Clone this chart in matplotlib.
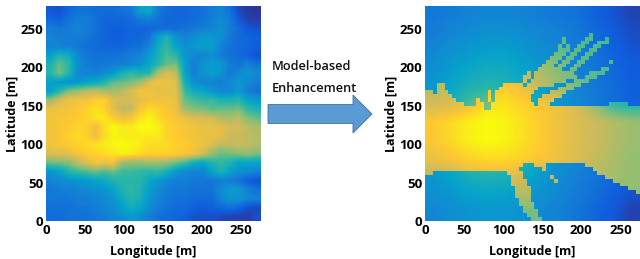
import numpy as np
import matplotlib
matplotlib.use("Agg")
import matplotlib.pyplot as plt
from matplotlib.colors import LinearSegmentedColormap
from matplotlib.patches import FancyArrow, PathPatch
from matplotlib.path import Path

plt.rcParams['font.family'] = ['Open Sans', 'DejaVu Sans']

parula = LinearSegmentedColormap.from_list("parula", [
    "#352a87", "#0f5cdd", "#1481d6", "#06a4ca", "#2eb7a4",
    "#87bf77", "#d1bb59", "#fec832", "#f9fb0e"])

ticks = [0, 50, 100, 150, 200, 250]
x_label = "Longitude [m]"
y_label = "Latitude [m]"
arrow_text = ["Model-based", "Enhancement"]

# left map, signal level in percent of the colour range, top row first
measured = [
    [12,10,16,20,20,18,18,18,20,22,36,40,24,18,16,16,18,20,24,26,20,8,4,3],
    [16,14,20,24,24,20,16,16,16,18,22,24,20,16,16,16,18,20,24,28,24,12,6,5],
    [24,22,24,26,24,20,16,14,14,16,16,16,18,18,18,20,22,24,26,30,24,18,12,10],
    [26,24,24,24,22,18,16,14,14,16,16,20,36,46,32,26,30,34,34,30,22,18,16,14],
    [26,26,24,22,20,18,16,16,16,18,20,26,42,50,38,30,34,36,36,26,20,18,16,14],
    [36,46,42,28,22,20,20,20,22,24,26,34,44,54,48,32,28,26,30,24,20,18,14,10],
    [46,58,50,30,24,22,22,24,24,26,30,38,48,58,60,36,24,32,36,34,24,20,26,20],
    [48,60,48,28,26,26,28,34,44,50,46,48,68,78,72,38,24,32,36,32,22,28,32,28],
    [36,34,30,32,36,40,46,56,58,60,66,78,84,82,80,44,30,26,26,24,28,34,28,24],
    [36,48,62,66,70,72,68,68,70,78,84,84,80,80,80,52,42,40,32,28,28,34,24,20],
    [66,76,82,84,84,88,90,78,76,76,80,84,84,84,82,58,54,50,52,46,46,48,38,34],
    [82,84,84,86,90,94,90,80,72,72,86,92,90,86,82,66,62,62,56,58,58,60,50,46],
    [84,86,86,88,90,94,96,88,82,86,94,98,92,88,86,82,78,76,76,70,68,72,62,58],
    [84,86,88,90,90,82,92,100,96,96,100,100,98,90,88,86,84,82,82,80,76,76,72,68],
    [84,86,90,92,90,82,92,98,97,96,96,96,96,90,88,86,84,82,82,80,74,74,72,70],
    [84,86,88,90,92,94,96,98,100,98,96,92,92,92,90,88,86,82,78,72,72,74,72,70],
    [78,78,80,84,88,90,92,94,98,96,92,90,90,90,88,86,82,76,64,58,60,62,64,60],
    [58,60,62,70,78,84,82,84,66,64,64,66,66,64,58,52,42,38,46,50,46,38,38,38],
    [32,36,46,52,54,58,54,58,52,52,50,48,50,44,34,28,26,26,36,46,38,30,28,26],
    [26,28,30,32,34,38,40,46,48,48,48,40,34,28,24,24,22,22,22,24,24,20,14,10],
    [22,24,24,26,28,30,32,38,46,50,46,36,28,24,22,22,20,20,20,28,34,34,26,20],
    [22,22,22,24,24,26,28,32,40,48,44,34,26,22,20,20,18,18,18,26,32,32,26,26],
    [20,20,20,22,22,24,26,30,36,42,38,30,24,20,18,18,14,12,14,16,20,16,10,8],
    [18,18,20,20,20,22,24,26,30,34,30,24,20,18,16,14,10,10,10,8,6,6,5,10],
]

# right map, background level (outside the lit beams)
shadowed = [
    [22,24,26,27,27,26,24,22,20,15,11,7],
    [24,27,29,31,31,29,27,25,22,18,13,9],
    [27,31,34,36,36,33,30,27,24,20,15,11],
    [30,35,39,42,41,37,33,29,25,21,17,13],
    [33,39,45,48,46,42,36,31,26,22,18,14],
    [36,44,56,60,60,50,38,32,27,23,19,15],
    [38,46,58,64,60,50,40,32,27,23,19,15],
    [38,46,58,64,60,50,40,32,27,23,19,15],
    [36,44,54,58,56,47,37,31,27,23,19,14],
    [33,38,44,46,45,40,34,29,25,21,16,12],
    [30,33,36,38,37,34,31,27,23,19,14,10],
    [27,30,32,33,33,31,28,25,21,16,12,6],
]

# right map, level inside the lit beams
lit = [
    [50,50,50,50,50,50,50,50,52,52,50,48],
    [52,52,52,52,52,52,52,54,54,54,52,50],
    [60,60,60,60,60,60,60,58,56,55,52,50],
    [65,65,68,70,72,70,68,62,58,55,54,52],
    [70,72,78,85,88,82,72,65,60,56,54,52],
    [76,78,84,94,94,90,86,82,76,64,50,47],
    [88,92,97,100,98,93,88,83,78,74,70,66],
    [87,92,97,100,98,93,88,83,78,74,70,66],
    [82,86,90,92,92,90,86,82,77,73,69,65],
    [70,72,78,80,80,76,72,75,72,70,68,65],
    [66,66,66,68,70,70,66,66,66,65,65,64],
    [60,60,60,60,60,60,60,60,60,60,60,60],
]

# lit cells of a 5 m grid, one list of (first, end) columns per row, top row first
lit_spans = [[]] * 7 + [
    [(42,43)],
    [(35,36),(41,43),(46,47)],
    [(35,36),(40,42),(44,47)],
    [(34,35),(36,37),(39,41),(43,45)],
    [(34,37),(38,40),(42,44)],
    [(33,36),(37,39),(41,43)],
    [(32,35),(36,38),(40,42)],
    [(31,34),(35,37),(39,41),(47,48)],
    [(30,33),(34,36),(38,40)],
    [(29,35),(37,39),(45,47)],
    [(26,27),(28,38),(42,46)],
    [(25,27),(28,39),(41,44)],
    [(25,26),(27,36),(38,42)],
    [(3,5),(20,25),(26,33),(36,40)],
    [(3,5),(19,29),(34,38)],
    [(0,2),(3,6),(16,17),(18,28),(32,36)],
    [(0,7),(16,17),(18,27),(30,35)],
    [(0,8),(13,14),(16,17),(18,27),(29,33)],
    [(0,10),(13,15),(17,28),(29,32),(47,52)],
    [(0,15),(17,55)],
] + [[(0,55)]] * 14 + [
    [(0,25),(28,31),(41,55)],
    [(0,24),(30,31),(43,55)],
    [(0,2),(21,25),(44,55)],
    [(22,25),(32,33),(46,55)],
    [(22,26),(33,34),(48,55)],
    [(22,26),(50,55)],
    [(23,27),(52,55)],
    [(23,27),(54,55)],
    [(23,27)],
    [(24,27)],
    [(24,28)],
    [(25,28)],
    [(25,29)],
    [(26,29)],
    [(27,30)],
]

fig = plt.figure(figsize=(6.4, 2.59), dpi=100)
W, H = 640, 259


def make_axes(left, right, top=6, bottom=221):
    ax = fig.add_axes([left / W, 1 - bottom / H, (right - left) / W, (bottom - top) / H])
    ax.set_xlim(0, 275)
    ax.set_ylim(0, 280)
    ax.set_xticks(ticks)
    ax.set_yticks(ticks)
    ax.tick_params(length=0, pad=2, labelsize=9.5)
    for lab in ax.get_xticklabels() + ax.get_yticklabels():
        lab.set_fontweight("bold")
    for s in ax.spines.values():
        s.set_visible(False)
    ax.set_xlabel(x_label, fontweight="bold", fontsize=9, labelpad=6)
    ax.set_ylabel(y_label, fontweight="bold", fontsize=9, labelpad=1)
    return ax


extent = (0, 275, 0, 280)
im_args = dict(cmap=parula, vmin=0, vmax=100, extent=extent, aspect="auto",
               interpolation="bilinear")

ax1 = make_axes(46, 260.5)
ax1.imshow(np.array(measured), **im_args)

ax2 = make_axes(425, 640)
ax2.imshow(np.array(shadowed), **im_args)
top_layer = ax2.imshow(np.array(lit), **im_args)

# clip the lit layer to the beam cells
rects = []
for row, spans in enumerate(lit_spans):
    for a, b in spans:
        y0 = 280 - 5 * (row + 1)
        rects.append(Path([(5 * a, y0), (5 * b, y0), (5 * b, y0 + 5), (5 * a, y0 + 5), (5 * a, y0)], closed=True))
clip = PathPatch(Path.make_compound_path(*rects), transform=ax2.transData)
top_layer.set_clip_path(clip)

# arrow between the maps, placed in pixels
px = fig.dpi_scale_trans
arrow = FancyArrow(268 / 100, (H - 114) / 100, 104 / 100, 0, width=19 / 100, head_width=38 / 100,
                   head_length=19 / 100, length_includes_head=True, transform=px,
                   facecolor="#5b9bd5", edgecolor="#41719c", linewidth=0.6)
fig.add_artist(arrow)

fig.text(272 / W, 1 - 67 / H, arrow_text[0], fontweight="semibold", fontsize=9.2, va="center", color="#111111")
fig.text(272 / W, 1 - 88 / H, arrow_text[1], fontweight="semibold", fontsize=9.2, va="center", color="#111111")

fig.savefig("out.png", dpi=100)
